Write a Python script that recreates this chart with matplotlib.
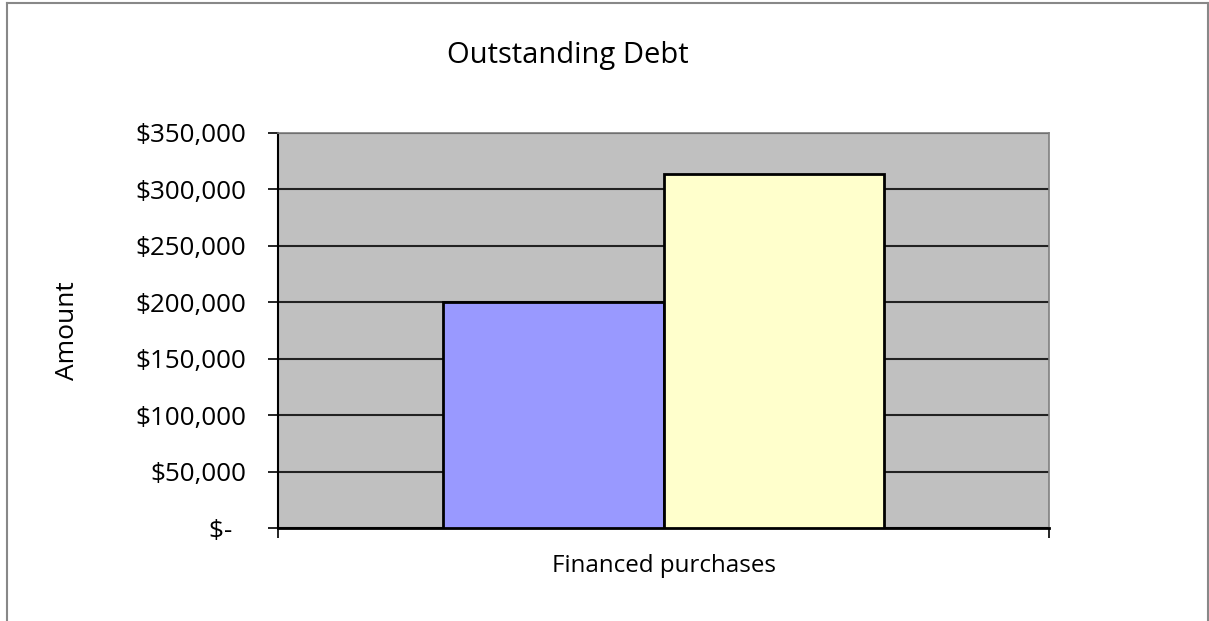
import matplotlib.pyplot as plt
from matplotlib.lines import Line2D
from matplotlib.ticker import FuncFormatter

# data
category = "Financed purchases"
series_values = [200000, 314000]
series_colors = ["#9999FF", "#FFFFCC"]
y_ticks = [0, 50000, 100000, 150000, 200000, 250000, 300000, 350000]

W, H = 1209, 621
plt.rcParams['font.family'] = ['Open Sans', 'DejaVu Sans']

fig = plt.figure(figsize=(W / 100, H / 100), dpi=100)
ax = fig.add_axes([278 / W, 1 - 528 / H, (1049 - 278) / W, (528 - 133) / H])
ax.set_facecolor("#C0C0C0")

bar_w = 220.5 / 771
for i, v in enumerate(series_values):
    ax.bar(0.5 - bar_w + i * bar_w, v, width=bar_w, align='edge',
           color=series_colors[i], edgecolor='black', linewidth=2, zorder=3)

ax.set_xlim(0, 1)
ax.set_ylim(0, 350000)
ax.set_yticks(y_ticks)
# accounting style: the zero label sits a little left of the others
ax.yaxis.set_major_formatter(FuncFormatter(lambda v, p: "$-  " if v == 0 else "${:,.0f}".format(v)))
ax.grid(axis='y', color='#222222', linewidth=1.5, zorder=1)
ax.set_axisbelow(True)

ax.set_xticks([0, 1])
ax.set_xticklabels(["", ""])
ax.set_xticks([0.5], minor=True)
ax.set_xticklabels([category], minor=True, fontsize=17.4)
ax.tick_params(axis='x', which='minor', length=0, pad=19)
ax.tick_params(axis='x', which='major', length=7, width=1.2, direction='out')
ax.tick_params(axis='y', length=7, width=1.2, direction='out', labelsize=18.7, pad=16)

for s in ['top', 'right']:
    ax.spines[s].set_color('#808080')
    ax.spines[s].set_linewidth(1.2)
ax.spines['left'].set_linewidth(1.5)
ax.spines['bottom'].set_linewidth(2)

ax.set_ylabel("Amount", fontsize=19)
ax.yaxis.set_label_coords((80 - 278) / 771, 0.5)

fig.text(568 / W, 1 - 55 / H, "Outstanding Debt", ha='center', va='center', fontsize=21)

# chart frame
fig.add_artist(Line2D([7 / W, 1208 / W], [1 - 3 / H, 1 - 3 / H], color='#888888', linewidth=1.5))
fig.add_artist(Line2D([7 / W, 7 / W], [0, 1 - 3 / H], color='#888888', linewidth=1.5))
fig.add_artist(Line2D([1208 / W, 1208 / W], [0, 1 - 3 / H], color='#888888', linewidth=1.5))

fig.savefig("out.png", dpi=100)
